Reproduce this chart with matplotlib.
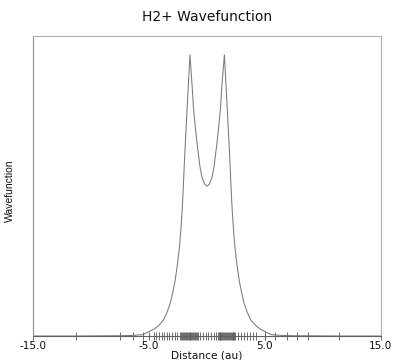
import matplotlib
matplotlib.use("Agg")
import matplotlib.pyplot as plt
from matplotlib import font_manager

# ---- data ----
x_left = [-15.0, -11.3, -7.5, -6.4, -5.5, -4.47, -4.1, -3.75, -3.45, -3.17, -2.95,
          -2.74, -2.55, -2.37, -2.25, -2.16, -2.08, -2.0, -1.9, -1.75, -1.6, -1.47]
y_left = [0.0, 0.0, 0.001, 0.002, 0.005, 0.027, 0.040, 0.057, 0.083, 0.116, 0.155,
          0.199, 0.255, 0.318, 0.38, 0.437, 0.496, 0.57, 0.66, 0.78, 0.90, 1.0]
x_mid = [-1.3, -1.16, -1.0, -0.87, -0.6, -0.43, -0.2, 0.0, 0.2, 0.43, 0.6, 0.87, 1.0, 1.16, 1.3]
y_mid = [0.90, 0.81, 0.74, 0.69, 0.60, 0.565, 0.54, 0.533, 0.54, 0.565, 0.60, 0.69, 0.74, 0.81, 0.90]
x_right = [1.5, 1.63, 1.78, 1.93, 2.03, 2.11, 2.19, 2.28, 2.4, 2.58, 2.77,
           2.98, 3.2, 3.48, 3.78, 4.13, 4.5, 5.5, 6.4, 7.5, 11.3, 15.0]
y_right = [1.0, 0.90, 0.78, 0.66, 0.57, 0.496, 0.437, 0.38, 0.318, 0.255, 0.199,
           0.155, 0.116, 0.083, 0.057, 0.040, 0.027, 0.005, 0.002, 0.001, 0.0, 0.0]

grid_points = [-11.3, -7.5, -6.4, -5.5, -4.6, -4.38, -4.15, -3.92, -3.7, -3.47, -3.24,
               -3.0, -2.78, -2.55, -2.33, -2.2, -2.12, -2.04, -1.96, -1.88, -1.8, -1.72,
               -1.64, -1.56, -1.5, -1.44, -1.36, -1.28, -1.2, -1.12, -1.04, -0.96, -0.88,
               -0.8, -0.57, -0.34, -0.11, 0.11, 0.34, 0.57, 0.8,
               0.92, 1.0, 1.08, 1.16, 1.24, 1.32, 1.4, 1.48, 1.56, 1.64, 1.72, 1.8,
               1.88, 1.96, 2.04, 2.12, 2.2, 2.28, 2.36, 2.45,
               2.7, 2.95, 3.2, 3.45, 3.7, 3.95, 4.2, 4.97, 5.9, 6.86, 7.8, 8.7, 11.4]

major_ticks = [-15.0, -5.0, 5.0, 15.0]
major_labels = ["-15.0", "-5.0", "5.0", "15.0"]

title = "H2+ Wavefunction"
xlabel = "Distance (au)"
ylabel = "Wavefunction"

# ---- figure ----
names = {f.name for f in font_manager.fontManager.ttflist}
narrow = "Liberation Sans Narrow" if "Liberation Sans Narrow" in names else "Liberation Sans"

fig = plt.figure(figsize=(3.94, 3.60), dpi=100)
ax = fig.add_axes([33/394, 24/360, 348/394, 300/360])

xs = x_left + x_mid + x_right
ys = y_left + y_mid + y_right
ax.plot(xs, ys, color="#7a7a7a", lw=0.75)

ax.set_xlim(-15, 15)
ax.set_ylim(0, 1.067)
ax.set_yticks([])
ax.set_xticks(major_ticks)
ax.set_xticklabels(major_labels, fontsize=7.6, family="DejaVu Sans", color="#111111")
ax.set_xticks(grid_points, minor=True)
ax.tick_params(axis="x", which="both", direction="inout", length=6, width=0.6,
               color="#555555", pad=0.5)

for s in ["top", "right"]:
    ax.spines[s].set_color("#b0b0b0")
    ax.spines[s].set_linewidth(0.8)
ax.spines["left"].set_color("#909090")
ax.spines["left"].set_linewidth(0.8)
ax.spines["bottom"].set_color("#606060")
ax.spines["bottom"].set_linewidth(0.8)

fig.text(207/394, 1 - 355/360, xlabel, ha="center", va="center",
         fontsize=7.6, family="DejaVu Sans", color="#111111")
fig.text(10/394, 1 - 191/360, ylabel, rotation=90, ha="center", va="center",
         fontsize=7.5, family=narrow, color="#111111")
fig.text(207/394, 1 - 17/360, title, ha="center", va="center",
         fontsize=10, family="DejaVu Sans", color="#111111")

fig.savefig("out.png", dpi=100)
